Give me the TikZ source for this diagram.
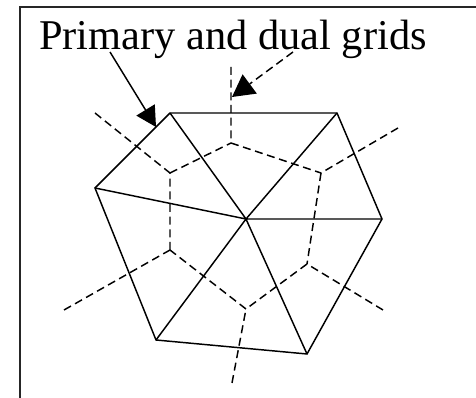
\documentclass[tikz,border=0pt]{standalone}
\usepackage{fontspec}
\setmainfont{Liberation Serif}
\usetikzlibrary{arrows.meta}
\tikzset{
  x=0.75pt,y=-0.75pt,
  primal/.style={draw=black,line width=1.1pt,line join=miter},
  dual/.style={draw=black,line width=1.1pt,dash pattern=on 6pt off 3.5pt},
  tip/.style={-{Triangle[length=15pt,width=16pt,sep=0pt]}},
  dualtip/.style={-{Triangle[length=16.5pt,width=18pt,sep=0pt,line width=0pt]}},
  title/.style={font=\fontsize{31.8pt}{33pt}\selectfont,inner sep=0pt,anchor=base west}
}
\begin{document}
\begin{tikzpicture}
\useasboundingbox (0,0) rectangle (476,398);
\draw[line width=1.5pt,draw=black!85] (19.5,398) -- (19.5,7.5) -- (476,7.5);
\coordinate (a) at (170,113);
\coordinate (b) at (337,113);
\coordinate (c) at (382,219);
\coordinate (d) at (307,354);
\coordinate (e) at (156,340);
\coordinate (f) at (95,188);
\coordinate (o) at (246,219);
\draw[primal] (a)--(b)--(c)--(d)--(e)--(f)--cycle;
\draw[primal] (a)--(o) (b)--(o) (c)--(o) (d)--(o) (e)--(o) (f)--(o);
\coordinate (u1) at (231,143);
\coordinate (u2) at (321,173);
\coordinate (u3) at (307,264);
\coordinate (u4) at (246,309);
\coordinate (u5) at (170,250);
\coordinate (u6) at (170,173);
\coordinate (t1) at (231,67);
\coordinate (t2) at (398,128);
\coordinate (t3) at (383,310);
\coordinate (t4) at (232,383);
\coordinate (t5) at (64,310);
\coordinate (t6) at (95,113);
\draw[dual] (u1)--(u2) (u2)--(u3) (u3)--(u4) (u4)--(u5) (u5)--(u6) (u6)--(u1);
\draw[dual] (t1)--(u1) (t2)--(u2) (t3)--(u3) (t4)--(u4) (t5)--(u5) (t6)--(u6);
\node[title] (lbl) at (39,50) {Primary and dual grids};
\coordinate (s1) at (110,52);
\coordinate (s2) at (156,127);
\coordinate (d1) at (293,52);
\coordinate (d2) at (232,97);
\draw[primal,tip] (s1)--(s2);
\draw[dual,dualtip] (d1)--(d2);
\end{tikzpicture}
\end{document}
